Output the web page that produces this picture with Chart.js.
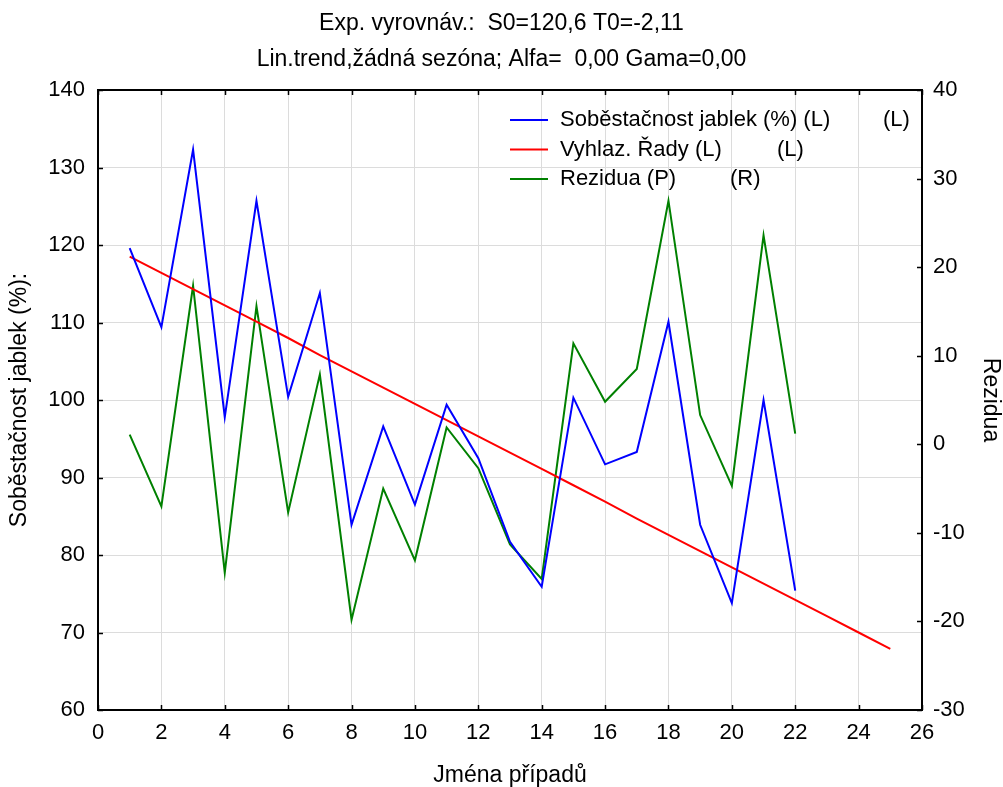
<!DOCTYPE html>
<html>
<head>
<meta charset="utf-8">
<script src="https://cdn.jsdelivr.net/npm/chart.js@4/dist/chart.umd.min.js"></script>
<style>
html,body{margin:0;padding:0;background:#fff;}
#wrap{width:1003px;height:787px;}
</style>
</head>
<body>
<div id="wrap"><canvas id="c" width="1003" height="787"></canvas></div>
<script>
// ---- data ----
const caseNumbers = [1,2,3,4,5,6,7,8,9,10,11,12,13,14,15,16,17,18,19,20,21,22];
const selfSufficiency = [119.6,109.4,132.3,97.8,125.7,100.4,113.8,83.9,96.6,86.5,99.4,92.5,81.7,75.9,100.3,91.7,93.3,110.1,83.9,73.8,100.0,75.4];
const smoothCases = [1,2,3,4,5,6,7,8,9,10,11,12,13,14,15,16,17,18,19,20,21,22,23,24,25];
const smoothed = [118.5,116.4,114.3,112.2,110.1,108.0,105.8,103.7,101.6,99.5,97.4,95.3,93.2,91.1,89.0,86.9,84.7,82.6,80.5,78.4,76.3,74.2,72.1,70.0,67.9];
const residuals = [1.1,-7.0,17.9,-14.5,15.6,-7.7,7.9,-19.8,-5.0,-13.1,1.9,-2.7,-11.3,-15.2,11.4,4.8,8.5,27.5,3.3,-4.7,23.6,1.2];
const seriesLabels = ['Soběstačnost jablek (%) (L)','Vyhlaz. Řady (L)','Rezidua (P)'];
const legendSuffix = ['(L)','(L)','(R)'];
const titleLines = ['Exp. vyrovnáv.:  S0=120,6 T0=-2,11','Lin.trend,žádná sezóna; Alfa=  0,00 Gama=0,00'];
const xTitle = 'Jména případů';
const yLeftTitle = 'Soběstačnost jablek (%):';
const yRightTitle = 'Rezidua';

const FONT = "'Liberation Sans', Arial, sans-serif";
const FS = 22;
const FT = 23;

function pts(xs, ys){ return ys.map((v,i)=>({x:xs[i], y:v})); }

const innerTicks = {
  id:'innerTicks',
  afterDatasetsDraw(chart){
    const {ctx, chartArea:a, scales} = chart;
    ctx.save();
    ctx.strokeStyle = '#000';
    ctx.lineWidth = 1.5;
    const L = 5;
    ctx.beginPath();
    scales.x.ticks.forEach(t=>{
      const px = Math.round(scales.x.getPixelForValue(t.value))+0.5;
      ctx.moveTo(px, a.bottom); ctx.lineTo(px, a.bottom-L);
      ctx.moveTo(px, a.top); ctx.lineTo(px, a.top+L);
    });
    scales.y.ticks.forEach(t=>{
      const py = Math.round(scales.y.getPixelForValue(t.value))+0.5;
      ctx.moveTo(a.left, py); ctx.lineTo(a.left+L, py);
    });
    scales.y2.ticks.forEach(t=>{
      const py = Math.round(scales.y2.getPixelForValue(t.value))+0.5;
      ctx.moveTo(a.right, py); ctx.lineTo(a.right-L, py);
    });
    ctx.stroke();
    ctx.lineWidth = 2;
    ctx.strokeRect(a.left, a.top, a.right-a.left, a.bottom-a.top);
    ctx.restore();
  }
};

const customLegend = {
  id:'customLegend',
  afterDraw(chart){
    const ctx = chart.ctx;
    const ys = [120,149.5,179];
    const sx = [883,777,730];
    ctx.save();
    ctx.font = FS + 'px ' + FONT;
    ctx.fillStyle = '#000';
    ctx.textBaseline = 'middle';
    chart.data.datasets.forEach((ds,i)=>{
      ctx.strokeStyle = ds.borderColor;
      ctx.lineWidth = 2;
      ctx.beginPath();
      ctx.moveTo(510, ys[i]); ctx.lineTo(548, ys[i]);
      ctx.stroke();
      ctx.fillText(ds.label, 560, ys[i]);
      ctx.fillText(legendSuffix[i], sx[i], ys[i]);
    });
    ctx.restore();
  }
};

new Chart(document.getElementById('c'), {
  type:'line',
  data:{
    datasets:[
      {label:seriesLabels[0], data:pts(caseNumbers, selfSufficiency), yAxisID:'y', borderColor:'#0000ff', borderWidth:2, pointRadius:0, tension:0, fill:false},
      {label:seriesLabels[1], data:pts(smoothCases, smoothed), yAxisID:'y', borderColor:'#ff0000', borderWidth:2, pointRadius:0, tension:0, fill:false},
      {label:seriesLabels[2], data:pts(caseNumbers, residuals), yAxisID:'y2', borderColor:'#008000', borderWidth:2, pointRadius:0, tension:0, fill:false}
    ]
  },
  options:{
    responsive:false,
    animation:false,
    devicePixelRatio:1,
    layout:{padding:0},
    plugins:{
      legend:{display:false},
      tooltip:{enabled:false},
      title:{
        display:true,
        text:titleLines,
        color:'#000',
        font:{family:FONT, size:FT, weight:'normal', lineHeight:'36px'},
        padding:{top:6,bottom:12}
      }
    },
    scales:{
      x:{
        type:'linear', min:0, max:26,
        ticks:{stepSize:2, color:'#000', font:{family:FONT,size:FS}, padding:10, maxRotation:0},
        grid:{color:'#dcdcdc', lineWidth:1, drawTicks:false},
        border:{display:false},
        title:{display:true, text:xTitle, color:'#000', font:{family:FONT,size:FT}, padding:{top:0,bottom:-2}},
        afterFit(s){ s.height = 77; }
      },
      y:{
        type:'linear', position:'left', min:60, max:140,
        ticks:{stepSize:10, color:'#000', font:{family:FONT,size:FS}, padding:13},
        grid:{color:'#dcdcdc', lineWidth:1, drawTicks:false},
        border:{display:false},
        title:{display:true, text:yLeftTitle, color:'#000', font:{family:FONT,size:FT}, padding:{top:6,bottom:0}},
        afterFit(s){ s.width = 98; }
      },
      y2:{
        type:'linear', position:'right', min:-30, max:40,
        ticks:{stepSize:10, color:'#000', font:{family:FONT,size:FS}, padding:11},
        grid:{drawOnChartArea:false, drawTicks:false},
        border:{display:false},
        title:{display:true, text:yRightTitle, color:'#000', font:{family:FONT,size:FT}, padding:{top:-1,bottom:0}},
        afterFit(s){ s.width = 81; }
      }
    }
  },
  plugins:[innerTicks, customLegend]
});
</script>
</body>
</html>
